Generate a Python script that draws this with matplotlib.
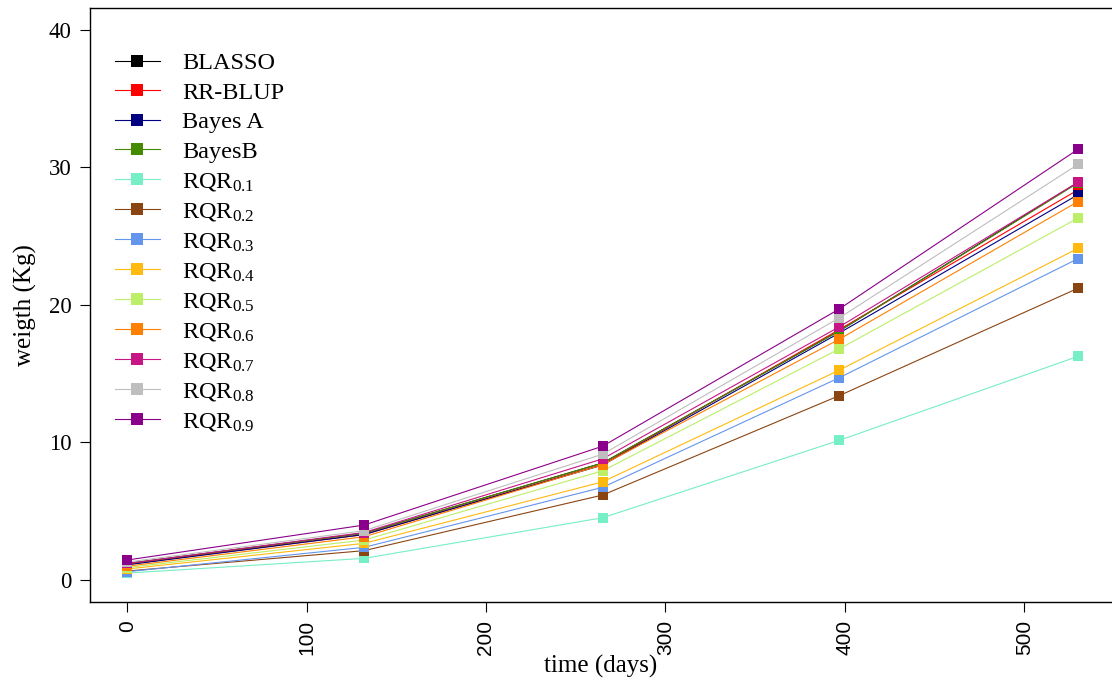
import numpy as np
import matplotlib
matplotlib.use('Agg')
import matplotlib.pyplot as plt

plt.rcParams['font.family'] = ['Liberation Serif', 'DejaVu Serif']
plt.rcParams['mathtext.fontset'] = 'custom'
plt.rcParams['mathtext.rm'] = 'Liberation Serif'
plt.rcParams['mathtext.it'] = 'Liberation Serif'

# time points (days)
days = [0, 132, 265, 397, 530]

# estimated weights (Kg)
blasso = [1.2, 3.4, 8.5, 18.1, 28.9]
rr_blup = [1.15, 3.3, 8.4, 18.2, 28.35]
bayes_a = [1.1, 3.3, 8.35, 17.95, 28.0]
bayes_b = [1.2, 3.4, 8.5, 18.1, 28.85]
rqr01 = [0.5, 1.57, 4.52, 10.15, 16.25]
rqr02 = [0.65, 2.13, 6.17, 13.4, 21.2]
rqr03 = [0.6, 2.37, 6.73, 14.7, 23.35]
rqr04 = [0.8, 2.66, 7.13, 15.25, 24.1]
rqr05 = [0.9, 2.9, 7.93, 16.8, 26.3]
rqr06 = [1.0, 3.14, 8.37, 17.5, 27.5]
rqr07 = [1.2, 3.45, 8.8, 18.4, 28.9]
rqr08 = [1.3, 3.58, 9.14, 19.05, 30.2]
rqr09 = [1.45, 3.99, 9.72, 19.7, 31.3]

labels = ['BLASSO', 'RR-BLUP', 'Bayes A', 'BayesB',
          r'RQR$_{\mathrm{0.1}}$', r'RQR$_{\mathrm{0.2}}$', r'RQR$_{\mathrm{0.3}}$',
          r'RQR$_{\mathrm{0.4}}$', r'RQR$_{\mathrm{0.5}}$', r'RQR$_{\mathrm{0.6}}$',
          r'RQR$_{\mathrm{0.7}}$', r'RQR$_{\mathrm{0.8}}$', r'RQR$_{\mathrm{0.9}}$']
series = [blasso, rr_blup, bayes_a, bayes_b, rqr01, rqr02, rqr03,
          rqr04, rqr05, rqr06, rqr07, rqr08, rqr09]
colors = ['#000000', '#FF0000', '#000080', '#458B00', '#76EEC6', '#8B4513',
          '#6495ED', '#FFB90F', '#BCEE68', '#FF7F00', '#C71585', '#BEBEBE',
          '#8B008B']

fig = plt.figure(figsize=(11.12, 6.84), dpi=100)
ax = fig.add_axes([89.5 / 1112, 1 - 602 / 684, (1113 - 89.5) / 1112, (602 - 7.5) / 684])

for y, lab, c in zip(series, labels, colors):
    ax.plot(days, y, color=c, lw=0.8, marker='s', ms=7, mew=0, label=lab)

ax.set_xlim(-21, 549.5)
ax.set_ylim(-1.6, 41.6)
ax.set_xticks([0, 100, 200, 300, 400, 500])
ax.set_yticks([0, 10, 20, 30, 40])
ax.set_xticklabels(['0', '100', '200', '300', '400', '500'], rotation=90,
                   family='Liberation Sans', fontsize=15)
ax.tick_params(axis='y', labelsize=16.5, length=7, pad=6)
ax.tick_params(axis='x', length=7, pad=6)
for s in ax.spines.values():
    s.set_linewidth(1.0)

fig.text(601 / 1112, 1 - 666 / 684, 'time (days)', ha='center', va='center', fontsize=18)
fig.text(25 / 1112, 1 - 305 / 684, 'weigth (Kg)', ha='center', va='center',
         rotation=90, fontsize=18)

leg = ax.legend(loc='upper left', bbox_to_anchor=(115 / 1112, 1 - 52 / 684),
                bbox_transform=fig.transFigure, frameon=False, fontsize=17.5,
                handlelength=1.85, handletextpad=0.9, labelspacing=0.31,
                borderpad=0, borderaxespad=0, markerscale=1.2)

fig.savefig('out.png', dpi=100)
